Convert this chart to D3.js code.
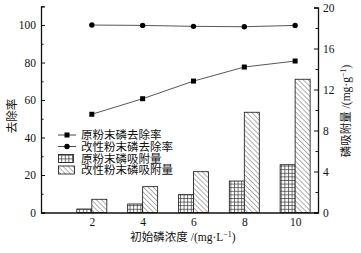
<!DOCTYPE html>
<html><head><meta charset="utf-8">
<script src="https://cdn.jsdelivr.net/npm/d3@7/dist/d3.min.js"></script>
<style>body{margin:0;background:#fff}svg{display:block}text{font-family:"Liberation Serif","Noto Sans CJK SC",serif;fill:#111}</style>
</head><body><div id="c"></div>
<script>
const conc = [2, 4, 6, 8, 10];
const rawRemoval = [52.4, 60.7, 70.1, 77.6, 80.8];
const modRemoval = [100, 99.8, 99.3, 99.1, 99.8];
const rawAdsorb = [0.34, 0.83, 1.74, 3.07, 4.66];
const modAdsorb = [1.29, 2.52, 3.98, 9.78, 13.0];
const leftTicks = [0, 20, 40, 60, 80, 100];
const rightTicks = [0, 4, 8, 12, 16, 20];
const legendLabels = ["原粉末磷去除率", "改性粉末磷去除率", "原粉末磷吸附量", "改性粉末磷吸附量"];

const W = 361, H = 253;
const svg = d3.select("#c").append("svg").attr("width", W).attr("height", H);
const defs = svg.append("defs");
const pg = defs.append("pattern").attr("id", "grid").attr("patternUnits", "userSpaceOnUse").attr("width", 3.6).attr("height", 3.6);
pg.append("rect").attr("width", 3.6).attr("height", 3.6).attr("fill", "#fff");
pg.append("path").attr("d", "M0,0.5H3.6M0.5,0V3.6").attr("stroke", "#333").attr("stroke-width", 0.7);
const ph = defs.append("pattern").attr("id", "hatch").attr("patternUnits", "userSpaceOnUse").attr("width", 3.5).attr("height", 3.5).attr("patternTransform", "rotate(-45)");
ph.append("rect").attr("width", 3.5).attr("height", 3.5).attr("fill", "#fff");
ph.append("line").attr("x1", 0).attr("y1", 0).attr("x2", 0).attr("y2", 3.5).attr("stroke", "#333").attr("stroke-width", 0.8);

const x = d3.scaleLinear().domain([0, 10.9]).range([41, 318]);
const yL = d3.scaleLinear().domain([0, 110]).range([212.5, 6.3]);
const yR = d3.scaleLinear().domain([0, 20]).range([212.5, 7.5]);
const bw = 15;

// bars
const g = svg.append("g");
g.selectAll(".rb").data(conc).join("rect")
  .attr("x", d => x(d) - bw).attr("width", bw)
  .attr("y", (d, i) => yR(rawAdsorb[i])).attr("height", (d, i) => yR(0) - yR(rawAdsorb[i]))
  .attr("fill", "url(#grid)").attr("stroke", "#111").attr("stroke-width", 0.8);
g.selectAll(".mb").data(conc).join("rect")
  .attr("x", d => x(d)).attr("width", bw)
  .attr("y", (d, i) => yR(modAdsorb[i])).attr("height", (d, i) => yR(0) - yR(modAdsorb[i]))
  .attr("fill", "url(#hatch)").attr("stroke", "#111").attr("stroke-width", 0.8);

// lines
const line = arr => d3.line().x((d, i) => x(conc[i])).y(d => yL(d))(arr);
svg.append("path").attr("d", line(rawRemoval)).attr("fill", "none").attr("stroke", "#444").attr("stroke-width", 0.9);
svg.append("path").attr("d", line(modRemoval)).attr("fill", "none").attr("stroke", "#444").attr("stroke-width", 0.9);
svg.selectAll(".sq").data(rawRemoval).join("rect")
  .attr("x", (d, i) => x(conc[i]) - 2.5).attr("y", d => yL(d) - 2.5).attr("width", 5).attr("height", 5).attr("fill", "#000");
svg.selectAll(".ci").data(modRemoval).join("circle")
  .attr("cx", (d, i) => x(conc[i])).attr("cy", d => yL(d)).attr("r", 2.7).attr("fill", "#000");

// axes
const axL = d3.axisLeft(yL).tickValues(leftTicks).tickSize(-4).tickPadding(5).tickFormat(d3.format("d"));
const axLm = d3.axisLeft(yL).tickValues(d3.range(10, 111, 20)).tickSize(-2.5).tickFormat("");
const axR = d3.axisRight(yR).tickValues(rightTicks).tickSize(-4).tickPadding(5).tickFormat(d3.format("d"));
const axRm = d3.axisRight(yR).tickValues(d3.range(2, 19, 4)).tickSize(-2.5).tickFormat("");
const axB = d3.axisBottom(x).tickValues(conc).tickSize(0).tickPadding(5).tickFormat(d3.format("d"));
function style(sel) {
  sel.selectAll("path.domain").attr("stroke", "#111").attr("stroke-width", 1.3);
  sel.selectAll("line").attr("stroke", "#111").attr("stroke-width", 1);
  sel.selectAll("text").attr("font-size", 11.5).attr("fill", "#111").style("font-family", '"Liberation Serif",serif');
}
svg.append("g").attr("transform", "translate(41,0)").call(axL).call(style);
svg.append("g").attr("transform", "translate(41,0)").call(axLm).call(style).select(".domain").remove();
svg.append("g").attr("transform", "translate(318,0)").call(axR).call(style);
svg.append("g").attr("transform", "translate(318,0)").call(axRm).call(style).select(".domain").remove();
svg.append("g").attr("transform", "translate(0,212.5)").call(axB).call(style);

// axis titles
svg.append("text").attr("transform", "translate(16,116) rotate(-90)").attr("text-anchor", "middle").attr("font-size", 11.5).text("去除率");
const rt = svg.append("text").attr("transform", "translate(350,111) rotate(-90)").attr("text-anchor", "middle").attr("font-size", 11.5);
rt.append("tspan").text("磷吸附量 /(mg·g");
rt.append("tspan").attr("dy", -4).attr("font-size", 8).text("−1");
rt.append("tspan").attr("dy", 4).text(")");
const xt = svg.append("text").attr("x", 183).attr("y", 241).attr("text-anchor", "middle").attr("font-size", 11.5);
xt.append("tspan").text("初始磷浓度 /(mg·L");
xt.append("tspan").attr("dy", -4).attr("font-size", 8).text("−1");
xt.append("tspan").attr("dy", 4).text(")");

// legend
const ly = [135, 146.5, 158.5, 170];
const lg = svg.append("g");
[0, 1].forEach(i => {
  lg.append("line").attr("x1", 58).attr("x2", 76).attr("y1", ly[i]).attr("y2", ly[i]).attr("stroke", "#333").attr("stroke-width", 0.9);
});
lg.append("rect").attr("x", 64.5).attr("y", ly[0] - 2.5).attr("width", 5).attr("height", 5).attr("fill", "#000");
lg.append("circle").attr("cx", 67).attr("cy", ly[1]).attr("r", 2.7).attr("fill", "#000");
lg.append("rect").attr("x", 58.5).attr("y", ly[2] - 4).attr("width", 15).attr("height", 8).attr("fill", "url(#grid)").attr("stroke", "#111").attr("stroke-width", 0.8);
lg.append("rect").attr("x", 58.5).attr("y", ly[3] - 4).attr("width", 16).attr("height", 8).attr("fill", "url(#hatch)").attr("stroke", "#111").attr("stroke-width", 0.8);
legendLabels.forEach((t, i) => {
  lg.append("text").attr("x", 81).attr("y", ly[i]).attr("dy", "0.36em").attr("font-size", 11.5).text(t);
});
</script></body></html>
